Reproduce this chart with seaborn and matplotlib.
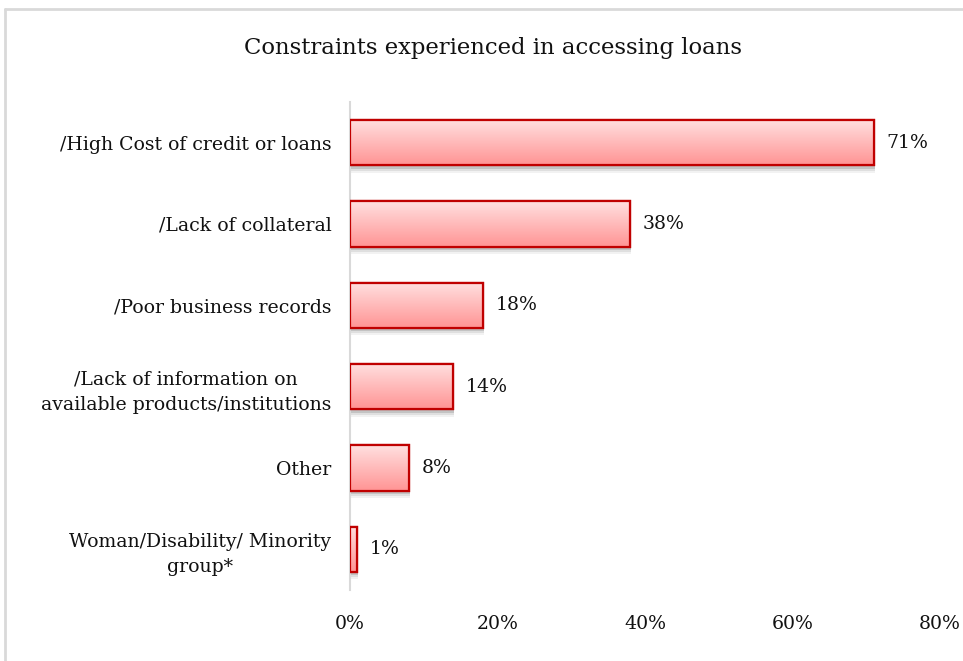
import matplotlib
matplotlib.use("Agg")
import matplotlib.pyplot as plt
import matplotlib.patches as mpatches
import matplotlib.lines as mlines
import numpy as np
import pandas as pd
import seaborn as sns

categories = [
    "/High Cost of credit or loans",
    "/Lack of collateral",
    "/Poor business records",
    "/Lack of information on\navailable products/institutions",
    "Other",
    "Woman/Disability/ Minority\ngroup*",
]
shares = [71, 38, 18, 14, 8, 1]
xticks = [0, 20, 40, 60, 80]
xtick_labels = ["0%", "20%", "40%", "60%", "80%"]

df = pd.DataFrame({"constraint": categories, "share": shares})

sns.set_theme(style="white")
plt.rcParams["font.family"] = ["DejaVu Serif"]

FS = 13.6
TXT = "#111111"

fig = plt.figure(figsize=(9.63, 6.61), dpi=100)
ax = fig.add_axes([350 / 963, 1 - 590 / 661, 590 / 963, 488 / 661])

sns.barplot(data=df, y="constraint", x="share", orient="h", ax=ax,
            width=0.56, color="#ffb0b0", edgecolor="#c00000", linewidth=1.6,
            zorder=3)

# vertical pink gradient fill with a soft drop shadow under each bar
grad = np.linspace(0, 1, 256).reshape(-1, 1)
cmap = matplotlib.colors.LinearSegmentedColormap.from_list(
    "pinkfade", ["#ffe0e0", "#ff9494"])
for patch in list(ax.patches):
    x0, y0 = patch.get_x(), patch.get_y()
    w, h = patch.get_width(), patch.get_height()
    for k, a in enumerate([0.12, 0.08, 0.05]):
        sh = mpatches.Rectangle((x0 + 0.15, y0 + 0.04 + 0.025 * k), w, h,
                                facecolor="black", edgecolor="none",
                                alpha=a, zorder=1)
        ax.add_patch(sh)
    im = ax.imshow(grad, extent=(x0, x0 + w, y0 + h, y0), aspect="auto",
                   cmap=cmap, zorder=3.5, interpolation="bicubic")
    im.set_clip_path(patch)
    outline = mpatches.Rectangle((x0, y0), w, h, facecolor="none",
                                 edgecolor="#c00000", linewidth=1.6, zorder=4)
    ax.add_patch(outline)
    ax.text(x0 + w + 1.7, y0 + h / 2, f"{int(round(w))}%", va="center",
            ha="left", fontsize=FS, color=TXT, zorder=5)

ax.set_xlim(0, 80)
ax.set_ylim(5.5, -0.5)
ax.set_xticks(xticks)
ax.set_xticklabels(xtick_labels, fontsize=FS, color=TXT)
ax.tick_params(axis="y", labelsize=FS, labelcolor=TXT, length=0, pad=13.5)
ax.tick_params(axis="x", length=0, pad=18)
for lbl in ax.get_yticklabels():
    lbl.set_horizontalalignment("right")
    lbl.set_multialignment("center")
    lbl.set_linespacing(1.5)
ax.set_xlabel("")
ax.set_ylabel("")
for side in ["top", "right", "bottom"]:
    ax.spines[side].set_visible(False)
ax.spines["left"].set_color("#d9d9d9")
ax.spines["left"].set_linewidth(1.5)
ax.set_facecolor("none")

fig.text(493 / 963, 1 - 48 / 661, "Constraints experienced in accessing loans",
         ha="center", va="center", fontsize=16.4, color=TXT)

# light frame lines along the top and left of the chart area
fig.add_artist(mlines.Line2D([5 / 963, 1], [1 - 9 / 661] * 2,
                             color="#d9d9d9", linewidth=2,
                             transform=fig.transFigure))
fig.add_artist(mlines.Line2D([5 / 963] * 2, [0, 1 - 9 / 661],
                             color="#d9d9d9", linewidth=2,
                             transform=fig.transFigure))

fig.savefig("out.png", dpi=100)
